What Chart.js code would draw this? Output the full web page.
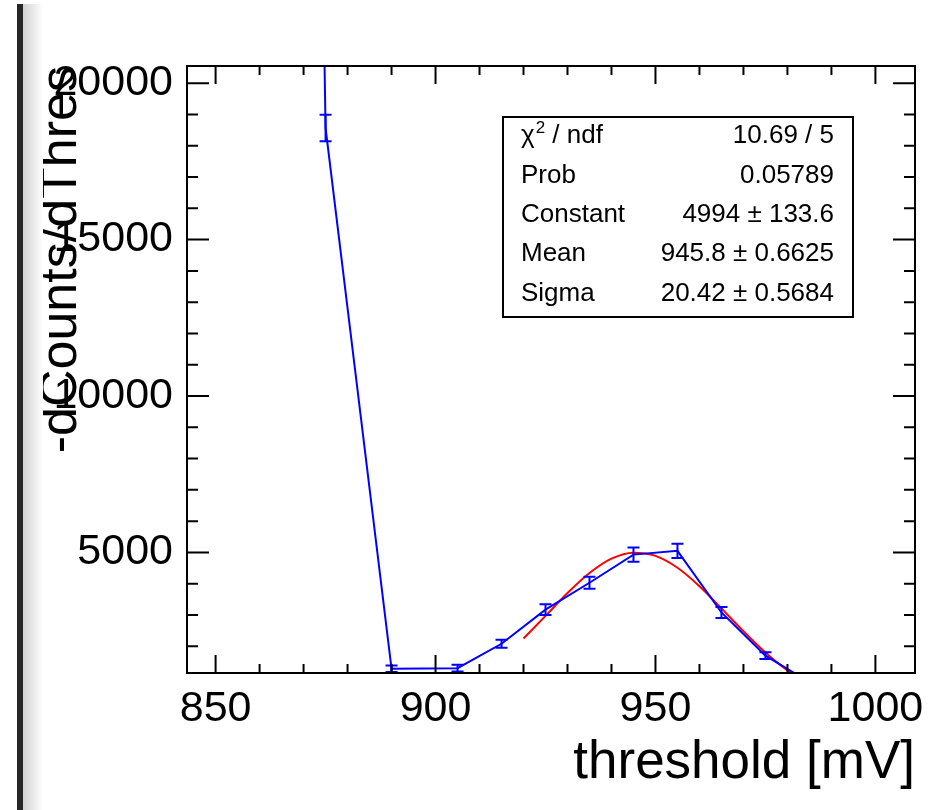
<!DOCTYPE html>
<html>
<head>
<meta charset="utf-8">
<title>threshold scan</title>
<script src="https://cdn.jsdelivr.net/npm/chart.js@4.4.1/dist/chart.umd.min.js"></script>
<style>
  html, body { margin: 0; padding: 0; background: #fff; }
  #wrap { position: relative; width: 952px; height: 810px; overflow: hidden; }
  #edge { position: absolute; left: 17px; top: 4px; width: 6px; height: 806px; background: #262626; }
  #shade { position: absolute; left: 23px; top: 4px; width: 20px; height: 806px;
           background: linear-gradient(to right, #d2d2d2, #ffffff); }
  #plot { position: absolute; left: 0; top: 0; }
</style>
</head>
<body>
<div id="wrap">
  <canvas id="plot" width="952" height="810"></canvas>
  <div id="shade"></div>
  <div id="edge"></div>
</div>
<script>
// measured points (blue graph) and their errors
const thresholds = [860, 875, 890, 905, 915, 925, 935, 945, 955, 965, 975, 985];
const rates = [150000, 18570, 1280, 1300, 2080, 3170, 4030, 4930, 5050, 3080, 1700, 850];
const rateErrors = [3000, 425, 105, 110, 130, 170, 190, 225, 230, 175, 105, 90];

// gaus fit curve (red)
const fitX = [920, 925, 930, 935, 940, 945, 950, 955, 960, 965, 970, 975, 980, 985];
const fitY = [2250, 2970, 3700, 4340, 4800, 4990, 4890, 4510, 3920, 3210, 2480, 1800, 1230, 790];

const xTickValues = [850, 900, 950, 1000];
const yTickValues = [5000, 10000, 15000, 20000];
const xMinorStep = 10;
const yMinorStep = 1000;

const statRows = [
  ["χ", "10.69 / 5"],
  ["Prob", "0.05789"],
  ["Constant", "4994 ± 133.6"],
  ["Mean", "945.8 ± 0.6625"],
  ["Sigma", "20.42 ± 0.5684"],
];

const FONT = "'Liberation Sans', Arial, Helvetica, sans-serif";

const rootStyle = {
  id: "rootStyle",
  afterDatasetsDraw(chart) {
    const { ctx, chartArea: a, scales: { x, y } } = chart;
    ctx.save();
    ctx.beginPath();
    ctx.rect(a.left, a.top, a.right - a.left, a.bottom - a.top);
    ctx.clip();
    ctx.strokeStyle = "#0000ff";
    ctx.lineWidth = 2;
    thresholds.forEach((t, i) => {
      const px = x.getPixelForValue(t);
      const lo = y.getPixelForValue(rates[i] - rateErrors[i]);
      const hi = y.getPixelForValue(rates[i] + rateErrors[i]);
      ctx.beginPath();
      ctx.moveTo(px, lo); ctx.lineTo(px, hi);
      ctx.moveTo(px - 6, lo); ctx.lineTo(px + 6, lo);
      ctx.moveTo(px - 6, hi); ctx.lineTo(px + 6, hi);
      ctx.stroke();
    });
    ctx.restore();
  },
  afterDraw(chart) {
    const { ctx, chartArea: a, scales: { x, y } } = chart;
    ctx.save();
    ctx.strokeStyle = "#000";
    ctx.lineWidth = 2;
    ctx.strokeRect(a.left, a.top, a.right - a.left, a.bottom - a.top);

    // ticks point inwards on all four sides
    ctx.beginPath();
    for (let v = Math.ceil(x.min / xMinorStep) * xMinorStep; v <= x.max; v += xMinorStep) {
      const px = x.getPixelForValue(v);
      const len = xTickValues.includes(v) ? 18 : 9;
      ctx.moveTo(px, a.bottom); ctx.lineTo(px, a.bottom - len);
      ctx.moveTo(px, a.top); ctx.lineTo(px, a.top + len);
    }
    for (let v = Math.ceil(y.min / yMinorStep) * yMinorStep; v <= y.max; v += yMinorStep) {
      const py = y.getPixelForValue(v);
      const len = yTickValues.includes(v) ? 22 : 11;
      ctx.moveTo(a.left, py); ctx.lineTo(a.left + len, py);
      ctx.moveTo(a.right, py); ctx.lineTo(a.right - len, py);
    }
    ctx.stroke();

    // fit statistics box
    const bx = 503, by = 117, bw = 350, bh = 200;
    ctx.fillStyle = "#fff";
    ctx.fillRect(bx, by, bw, bh);
    ctx.lineWidth = 2;
    ctx.strokeRect(bx, by, bw, bh);
    ctx.fillStyle = "#000";
    ctx.textBaseline = "middle";
    statRows.forEach(([name, value], i) => {
      const ty = 136 + 39.4 * i;
      ctx.font = "26px " + FONT;
      ctx.textAlign = "left";
      ctx.fillText(name, 521, ty);
      if (i === 0) {
        let cx = 521 + ctx.measureText(name).width + 1;
        ctx.font = "17px " + FONT;
        ctx.fillText("2", cx, ty - 8);
        cx += ctx.measureText("2").width;
        ctx.font = "26px " + FONT;
        ctx.fillText(" / ndf", cx, ty);
      }
      ctx.textAlign = "right";
      ctx.fillText(value, 834, ty);
    });
    ctx.restore();
  },
};

new Chart(document.getElementById("plot"), {
  type: "scatter",
  data: {
    datasets: [
      {
        label: "data",
        data: thresholds.map((t, i) => ({ x: t, y: rates[i] })),
        showLine: true,
        borderColor: "#0000ff",
        borderWidth: 2,
        pointRadius: 0,
        tension: 0,
      },
      {
        label: "gaus",
        data: fitX.map((t, i) => ({ x: t, y: fitY[i] })),
        showLine: true,
        borderColor: "#ff0000",
        borderWidth: 2,
        pointRadius: 0,
        cubicInterpolationMode: "monotone",
      },
    ],
  },
  options: {
    responsive: false,
    animation: false,
    events: [],
    layout: { padding: { top: 66, right: 37, bottom: 0, left: 0 } },
    plugins: { legend: { display: false }, tooltip: { enabled: false } },
    scales: {
      x: {
        type: "linear",
        min: 843.5,
        max: 1009,
        afterBuildTicks: (scale) => { scale.ticks = xTickValues.map((v) => ({ value: v })); },
        afterFit: (scale) => { scale.height = 137; },
        grid: { display: false, drawTicks: false },
        border: { display: false },
        ticks: {
          color: "#000",
          padding: 10,
          maxRotation: 0,
          font: { family: FONT, size: 43, lineHeight: 1.2 },
          callback: (v) => String(v),
        },
        title: {
          display: true,
          text: "threshold [mV]",
          align: "end",
          color: "#000",
          font: { family: FONT, size: 53, lineHeight: 1 },
          padding: { top: 0, bottom: 20 },
        },
      },
      y: {
        type: "linear",
        min: 1145,
        max: 20550,
        afterBuildTicks: (scale) => { scale.ticks = yTickValues.map((v) => ({ value: v })); },
        afterFit: (scale) => { scale.width = 187; },
        grid: { display: false, drawTicks: false },
        border: { display: false },
        ticks: {
          color: "#000",
          padding: 14,
          font: { family: FONT, size: 43, lineHeight: 1.2 },
          callback: (v) => String(v),
        },
        title: {
          display: true,
          text: "-dCounts/dThres",
          align: "end",
          color: "#000",
          font: { family: FONT, size: 52, lineHeight: 1 },
          padding: { top: 36, bottom: 0 },
        },
      },
    },
  },
  plugins: [rootStyle],
});
</script>
</body>
</html>
